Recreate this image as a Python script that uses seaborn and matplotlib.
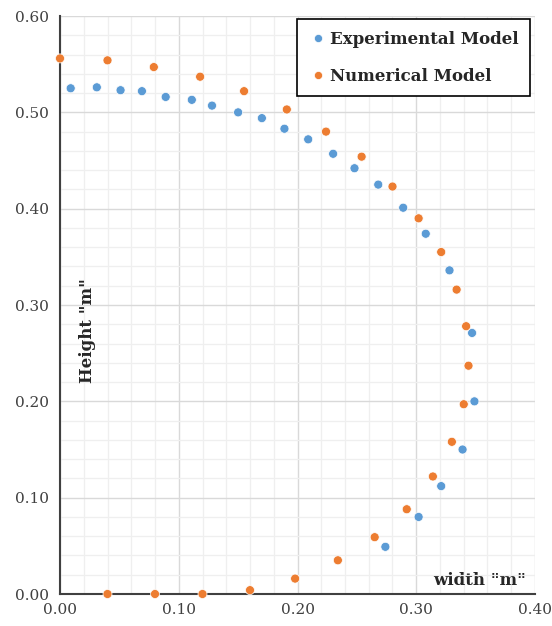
import numpy as np
import pandas as pd
import seaborn as sns
import matplotlib.pyplot as plt
from matplotlib.ticker import MultipleLocator

# values
exp_width = [0.009, 0.031, 0.051, 0.069, 0.089, 0.111, 0.128, 0.150, 0.170,
             0.189, 0.209, 0.230, 0.248, 0.268, 0.289, 0.308, 0.328, 0.347,
             0.349, 0.339, 0.321, 0.302, 0.274]
exp_height = [0.525, 0.526, 0.523, 0.522, 0.516, 0.513, 0.507, 0.500, 0.494,
              0.483, 0.472, 0.457, 0.442, 0.425, 0.401, 0.374, 0.336, 0.271,
              0.200, 0.150, 0.112, 0.080, 0.049]

num_width = [0.000, 0.040, 0.079, 0.118, 0.155, 0.191, 0.224, 0.254, 0.280,
             0.302, 0.321, 0.334, 0.342, 0.344, 0.340, 0.330, 0.314, 0.292,
             0.265, 0.234, 0.198, 0.160, 0.120, 0.080, 0.040]
num_height = [0.556, 0.554, 0.547, 0.537, 0.522, 0.503, 0.480, 0.454, 0.423,
              0.390, 0.355, 0.316, 0.278, 0.237, 0.197, 0.158, 0.122, 0.088,
              0.059, 0.035, 0.016, 0.004, 0.000, 0.000, 0.000]

series_names = ['Experimental Model', 'Numerical Model']
colors = ['#5B9BD5', '#ED7D31']

df = pd.DataFrame({
    'width': exp_width + num_width,
    'height': exp_height + num_height,
    'model': [series_names[0]] * len(exp_width) + [series_names[1]] * len(num_width),
})

sns.set_style('white')
plt.rcParams['font.family'] = ['DejaVu Serif']

fig = plt.figure(figsize=(5.52, 6.26), dpi=100)
ax = fig.add_axes([0.1087, 0.0511, 0.8605, 0.9233])

sns.scatterplot(data=df, x='width', y='height', hue='model', palette=colors,
                s=42, edgecolor='white', linewidth=0.5, ax=ax, clip_on=False, zorder=3)

ax.set_xlim(0, 0.40)
ax.set_ylim(0, 0.60)
ax.xaxis.set_major_locator(MultipleLocator(0.10))
ax.yaxis.set_major_locator(MultipleLocator(0.10))
ax.xaxis.set_minor_locator(MultipleLocator(0.02))
ax.yaxis.set_minor_locator(MultipleLocator(0.02))
ax.xaxis.set_major_formatter(plt.FuncFormatter(lambda v, p: f'{v:.2f}'))
ax.yaxis.set_major_formatter(plt.FuncFormatter(lambda v, p: f'{v:.2f}'))

ax.grid(which='major', color='#d9d9d9', linewidth=1.0)
ax.grid(which='minor', color='#efefef', linewidth=0.9)
ax.set_axisbelow(True)

for side in ['top', 'right']:
    ax.spines[side].set_visible(False)
for side in ['left', 'bottom']:
    ax.spines[side].set_color('#404040')
    ax.spines[side].set_linewidth(1.5)

ax.tick_params(axis='x', which='major', direction='inout', length=9, width=1.2,
               color='#404040', labelsize=11, labelcolor='#404040', pad=2)
ax.tick_params(axis='y', which='major', length=0, labelsize=11, labelcolor='#404040', pad=8)
ax.tick_params(which='minor', length=0)

ax.set_xlabel('width "m"', fontsize=12, fontweight='bold')
ax.set_ylabel('Height "m"', fontsize=12, fontweight='bold')
ax.xaxis.set_label_coords(0.884, 0.038)
ax.yaxis.set_label_coords(0.075, 0.455)

leg = ax.legend(loc='upper right', bbox_to_anchor=(0.99, 0.995), borderaxespad=0,
                fancybox=False, framealpha=1, edgecolor='black', markerscale=0.9,
                prop={'weight': 'bold', 'size': 12}, handletextpad=0.1,
                labelspacing=1.2, borderpad=0.7, handlelength=1.2)
leg.get_frame().set_linewidth(1.2)

fig.savefig('out.png', dpi=100)
